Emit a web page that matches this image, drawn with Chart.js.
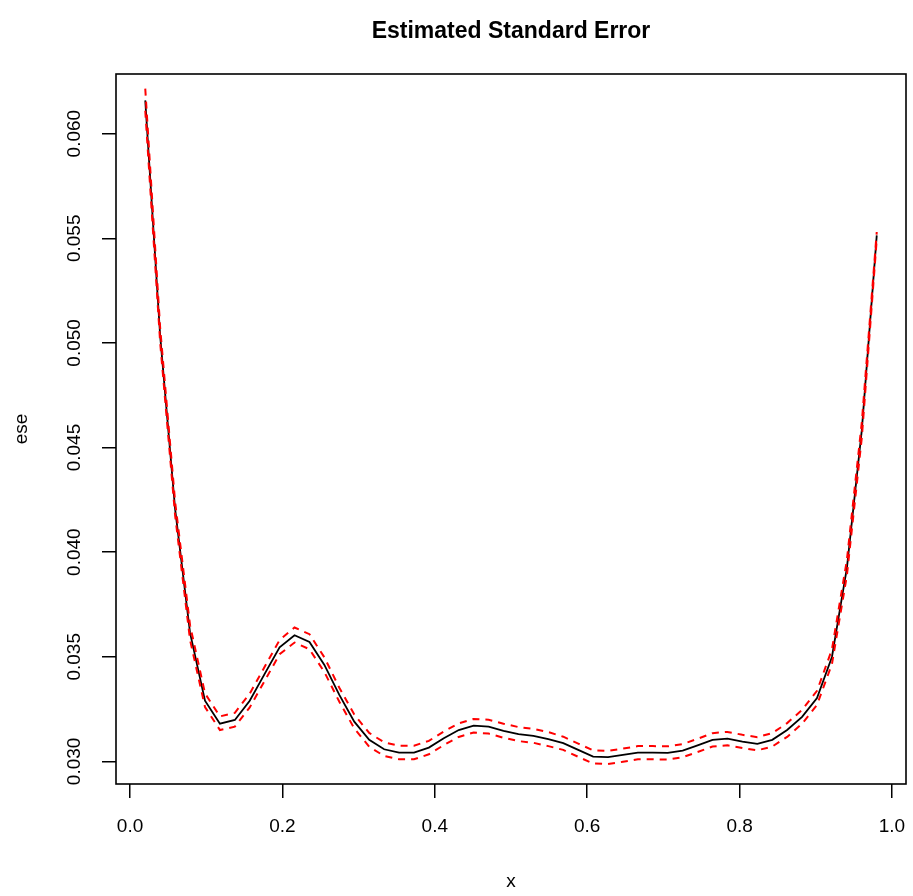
<!DOCTYPE html>
<html lang="en">
<head>
<meta charset="UTF-8" />
<title>Estimated Standard Error</title>
<style>
  body { margin: 0; padding: 0; background: #ffffff; }
  #wrap { width: 913px; height: 896px; }
</style>
</head>
<body>
<div id="wrap"><canvas id="ese" width="913" height="896"></canvas></div>
<script src="https://cdn.jsdelivr.net/npm/chart.js"></script>
<script>
  // grid of x values (50 points, 0.02 .. 0.98)
  const xs = [0.0200, 0.0396, 0.0592, 0.0788, 0.0984, 0.1180, 0.1376, 0.1571, 0.1767, 0.1963,
              0.2159, 0.2355, 0.2551, 0.2747, 0.2943, 0.3139, 0.3335, 0.3531, 0.3727, 0.3922,
              0.4118, 0.4314, 0.4510, 0.4706, 0.4902, 0.5098, 0.5294, 0.5490, 0.5686, 0.5882,
              0.6078, 0.6273, 0.6469, 0.6665, 0.6861, 0.7057, 0.7253, 0.7449, 0.7645, 0.7841,
              0.8037, 0.8233, 0.8429, 0.8624, 0.8820, 0.9016, 0.9212, 0.9408, 0.9604, 0.9800];

  // estimated standard error (black line)
  const ese = [0.06159, 0.05032, 0.04206, 0.03614, 0.03290, 0.03180, 0.03198, 0.03290, 0.03418, 0.03545,
               0.03603, 0.03571, 0.03461, 0.03318, 0.03190, 0.03103, 0.03058, 0.03042, 0.03042, 0.03066,
               0.03111, 0.03150, 0.03171, 0.03166, 0.03146, 0.03130, 0.03122, 0.03106, 0.03087, 0.03055,
               0.03023, 0.03020, 0.03031, 0.03042, 0.03042, 0.03041, 0.03052, 0.03077, 0.03103, 0.03109,
               0.03095, 0.03084, 0.03103, 0.03150, 0.03213, 0.03303, 0.03499, 0.03924, 0.04583, 0.05514];

  // upper red dashed band
  const upper = [0.06215, 0.05070, 0.04240, 0.03650, 0.03325, 0.03215, 0.03232, 0.03324, 0.03452, 0.03580,
                 0.03640, 0.03608, 0.03497, 0.03352, 0.03224, 0.03136, 0.03091, 0.03075, 0.03075, 0.03098,
                 0.03143, 0.03182, 0.03203, 0.03199, 0.03180, 0.03164, 0.03156, 0.03140, 0.03118, 0.03085,
                 0.03053, 0.03050, 0.03061, 0.03073, 0.03073, 0.03072, 0.03083, 0.03108, 0.03135, 0.03141,
                 0.03127, 0.03116, 0.03135, 0.03183, 0.03246, 0.03337, 0.03535, 0.03962, 0.04620, 0.05530];

  // lower red dashed band
  const lower = [0.06110, 0.05000, 0.04175, 0.03580, 0.03260, 0.03150, 0.03166, 0.03258, 0.03385, 0.03512,
                 0.03568, 0.03536, 0.03427, 0.03285, 0.03158, 0.03070, 0.03026, 0.03010, 0.03010, 0.03034,
                 0.03078, 0.03117, 0.03138, 0.03133, 0.03113, 0.03097, 0.03089, 0.03073, 0.03055, 0.03022,
                 0.02990, 0.02987, 0.02998, 0.03010, 0.03010, 0.03009, 0.03020, 0.03045, 0.03071, 0.03077,
                 0.03064, 0.03053, 0.03071, 0.03117, 0.03180, 0.03270, 0.03465, 0.03888, 0.04547, 0.05495];

  const xTicks = [0.0, 0.2, 0.4, 0.6, 0.8, 1.0];
  const yTicks = [0.030, 0.035, 0.040, 0.045, 0.050, 0.055, 0.060];

  const FONT = "'Liberation Sans', Arial, sans-serif";
  const pts = arr => arr.map((v, i) => ({ x: xs[i], y: v }));

  // R-style box, labels and title
  const rText = {
    id: 'rText',
    afterDraw(chart) {
      const { ctx, chartArea: a, scales } = chart;
      ctx.save();
      ctx.strokeStyle = '#000';
      ctx.lineWidth = 1.6;
      ctx.strokeRect(a.left, a.top, a.right - a.left, a.bottom - a.top);

      ctx.fillStyle = '#000';
      ctx.textAlign = 'center';
      ctx.textBaseline = 'middle';
      const cx = (a.left + a.right) / 2;
      const cy = (a.top + a.bottom) / 2;

      ctx.font = 'bold 23px ' + FONT;
      ctx.fillText('Estimated Standard Error', cx, 32);

      ctx.font = '19px ' + FONT;
      xTicks.forEach(v => ctx.fillText(v.toFixed(1), scales.x.getPixelForValue(v), 827));
      ctx.fillText('x', cx, 882);

      yTicks.forEach(v => {
        ctx.save();
        ctx.translate(75, scales.y.getPixelForValue(v));
        ctx.rotate(-Math.PI / 2);
        ctx.fillText(v.toFixed(3), 0, 0);
        ctx.restore();
      });
      ctx.save();
      ctx.translate(22, cy);
      ctx.rotate(-Math.PI / 2);
      ctx.fillText('ese', 0, 0);
      ctx.restore();
      ctx.restore();
    }
  };

  new Chart(document.getElementById('ese'), {
    type: 'scatter',
    data: {
      datasets: [
        { label: 'upper', data: pts(upper), showLine: true, borderColor: '#ff0000', borderWidth: 2,
          borderDash: [7, 6], pointRadius: 0, order: 1 },
        { label: 'lower', data: pts(lower), showLine: true, borderColor: '#ff0000', borderWidth: 2,
          borderDash: [7, 6], pointRadius: 0, order: 2 },
        { label: 'ese', data: pts(ese), showLine: true, borderColor: '#000000', borderWidth: 1.8,
          pointRadius: 0, order: 3 }
      ]
    },
    options: {
      responsive: false,
      animation: false,
      layout: { padding: { left: 0, right: 7, top: 74, bottom: 0 } },
      plugins: { legend: { display: false }, tooltip: { enabled: false }, title: { display: false } },
      scales: {
        x: {
          type: 'linear', min: -0.0184, max: 1.0184,
          afterBuildTicks: s => { s.ticks = xTicks.map(v => ({ value: v })); },
          afterFit: s => { s.height = 112; },
          ticks: { display: false },
          border: { display: false },
          grid: { drawOnChartArea: false, drawTicks: true, tickLength: 14, color: '#000', lineWidth: 1.5 }
        },
        y: {
          type: 'linear', min: 0.02892, max: 0.06285,
          afterBuildTicks: s => { s.ticks = yTicks.map(v => ({ value: v })); },
          afterFit: s => { s.width = 116; },
          ticks: { display: false },
          border: { display: false },
          grid: { drawOnChartArea: false, drawTicks: true, tickLength: 14, color: '#000', lineWidth: 1.5 }
        }
      }
    },
    plugins: [rText]
  });
</script>
</body>
</html>
